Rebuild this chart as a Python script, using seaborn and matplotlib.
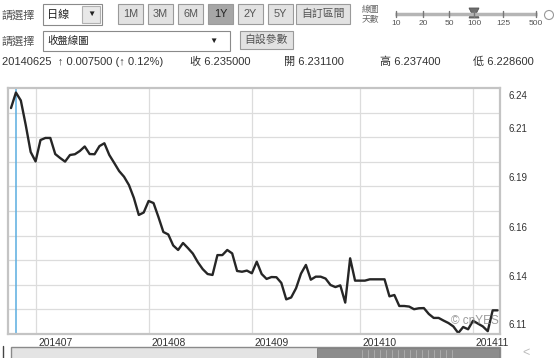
import numpy as np
import pandas as pd
import matplotlib
matplotlib.use("Agg")
import matplotlib.pyplot as plt
import matplotlib.patches as mpatches
from matplotlib.transforms import blended_transform_factory
import seaborn as sns

# ---- data (USD/CNY daily close) ----
start_date = "2014-06-24"
end_date = "2014-11-10"
close_values = [
    6.2294, 6.2376, 6.2334, 6.2204, 6.2062, 6.2012, 6.2125, 6.2136, 6.2136, 6.2051,
    6.2030, 6.2011, 6.2046, 6.2050, 6.2067, 6.2091, 6.2051, 6.2050, 6.2093, 6.2108,
    6.2046, 6.2004, 6.1961, 6.1931, 6.1887, 6.1819, 6.1729, 6.1742, 6.1803, 6.1792,
    6.1718, 6.1639, 6.1626, 6.1568, 6.1544, 6.1581, 6.1554, 6.1525, 6.1480, 6.1443,
    6.1417, 6.1412, 6.1517, 6.1517, 6.1544, 6.1526, 6.1433, 6.1429, 6.1435, 6.1421,
    6.1482, 6.1417, 6.1391, 6.1401, 6.1400, 6.1370, 6.1283, 6.1293, 6.1342, 6.1419,
    6.1465, 6.1387, 6.1403, 6.1403, 6.1393, 6.1359, 6.1348, 6.1357, 6.1266, 6.1500,
    6.1382, 6.1382, 6.1382, 6.1389, 6.1389, 6.1389, 6.1389, 6.1299, 6.1306, 6.1248,
    6.1248, 6.1245, 6.1231, 6.1236, 6.1237, 6.1206, 6.1185, 6.1185, 6.1171, 6.1158,
    6.1140, 6.1105, 6.1137, 6.1125, 6.1170, 6.1155, 6.1140, 6.1115, 6.1225, 6.1225,
]
selected_date = "2014-06-25"
y_min, y_max = 6.11, 6.24
header_info = "20140625  ↑ 0.007500 (↑ 0.12%)"
close_txt = "收 6.235000"
open_txt = "開 6.231100"
high_txt = "高 6.237400"
low_txt = "低 6.228600"
range_buttons = ["1M", "3M", "6M", "1Y", "2Y", "5Y"]
slider_labels = ["10", "20", "50", "100", "125", "500"]

dates = pd.bdate_range(start_date, end_date)
df = pd.DataFrame({"date": dates, "close": close_values})
df["idx"] = np.arange(len(df))

sns.set_theme(style="white")
plt.rcParams["font.family"] = ["Liberation Sans", "Noto Sans CJK TC", "DejaVu Sans"]

W, H = 554, 358
fig = plt.figure(figsize=(W / 100, H / 100), dpi=100)
fig.patch.set_facecolor("white")

# main plot area: x 8..500, y 88..334 (pixels)
L, R, T, B = 8, 500, 88, 334
ax = fig.add_axes([L / W, 1 - B / H, (R - L) / W, (B - T) / H])
ax.set_facecolor("white")

sns.lineplot(data=df, x="idx", y="close", ax=ax, color="#262626", linewidth=1.7)

px_per_day = 4.915
ax.set_xlim(-(11 - L) / px_per_day, (R - 11) / px_per_day)
ax.set_ylim(y_min, y_max)
ax.set_xlabel("")
ax.set_ylabel("")
ax.set_xticks([])
ax.set_yticks([])

# horizontal grid
step = (y_max - y_min) / 10
for k in range(1, 10):
    ax.axhline(y_min + k * step, color="#dcdcdc", linewidth=0.9, zorder=0)

# vertical grid at first trading day of each month + labels
trans_x = blended_transform_factory(ax.transData, ax.transAxes)
month_first = df.groupby(df["date"].dt.to_period("M"))["idx"].min()
for per, i in month_first.items():
    if i == 0:
        continue
    ax.axvline(i, color="#dcdcdc", linewidth=0.9, zorder=0)
    ax.text(i + 0.6, -0.015, f"{per.year}{per.month:02d}", transform=trans_x,
            ha="left", va="top", fontsize=7.4, color="#333333")

# selected-day blue line
sel_idx = int(df.index[df["date"] == pd.Timestamp(selected_date)][0])
ax.axvline(sel_idx, color="#5aaee0", linewidth=1.1, zorder=1)

# right y labels
trans_y = blended_transform_factory(ax.transAxes, ax.transData)
for k in range(0, 11, 2):
    v = y_min + k * step
    if k == 10:
        ax.text(1.017, v - step * 0.12, f"{v:.2f}", transform=trans_y, ha="left",
                va="top", fontsize=7, color="#333333")
    else:
        ax.text(1.017, v + step * (0.12 if k > 0 else 0.16), f"{v:.2f}", transform=trans_y,
                ha="left", va="bottom", fontsize=7, color="#333333")

for s in ax.spines.values():
    s.set_color("#c4c4c4")
    s.set_linewidth(1.6)

# watermark
ax.text(0.998, 0.03, "© cnYES", transform=ax.transAxes, ha="right", va="bottom",
        fontsize=8.5, color="#8a8a8a", alpha=0.85)

# ---- overlay in pixel coordinates for UI elements ----
ov = fig.add_axes([0, 0, 1, 1], zorder=5)
ov.set_xlim(0, W)
ov.set_ylim(H, 0)
ov.axis("off")
ov.patch.set_alpha(0)

def box(x0, y0, x1, y1, fc, ec="#9a9a9a", lw=0.8):
    ov.add_patch(mpatches.Rectangle((x0, y0), x1 - x0, y1 - y0, facecolor=fc,
                                    edgecolor=ec, linewidth=lw))

cjk = dict(color="#555555")
# row 1
ov.text(2, 15, "請選擇", fontsize=8, va="center", ha="left", **cjk)
box(43, 4, 102, 25, "white", "#8a8a8a")
ov.text(47, 14.5, "日線", fontsize=8, va="center", ha="left", color="#222222")
box(82, 6, 100, 23, "#e8e8e8", "#b0b0b0")
ov.text(91, 14.5, "▼", fontsize=6, va="center", ha="center", color="#222222")
bx = [118, 148, 178, 208, 238, 268]
for lab, x0 in zip(range_buttons, bx):
    sel = lab == "1Y"
    box(x0, 3.5, x0 + 25, 24, "#a6a6a6" if sel else "#e2e2e2", "#9a9a9a")
    ov.text(x0 + 12.5, 14, lab, fontsize=7.8, va="center", ha="center",
            color="#222222" if sel else "#555555")
box(296, 3.5, 350, 24, "#e2e2e2", "#9a9a9a")
ov.text(323, 14, "自訂區間", fontsize=7.8, va="center", ha="center", color="#555555")

# slider
ov.text(362, 9.5, "線圖", fontsize=6.3, va="center", ha="left", color="#666666")
ov.text(362, 19, "天數", fontsize=6.3, va="center", ha="left", color="#666666")
ov.plot([395, 537], [14, 14], color="#b5b5b5", linewidth=2.5, solid_capstyle="butt")
sx = [396, 423, 449, 474, 503, 536]
for lab, x in zip(slider_labels, sx):
    ov.plot([x, x], [11, 17], color="#777777", linewidth=1)
    ov.text(x, 23.5, lab, fontsize=6, va="center", ha="center", color="#555555")
ov.add_patch(mpatches.Polygon([[469, 8], [479, 8], [476.5, 13], [479, 18], [469, 18], [471.5, 13]],
                              closed=True, facecolor="#6e6e6e", edgecolor="#555555", linewidth=0.6))
ov.add_patch(mpatches.Circle((549, 15), 4.5, facecolor="white", edgecolor="#999999", linewidth=0.8))

# row 2
ov.text(2, 41, "請選擇", fontsize=8, va="center", ha="left", **cjk)
box(43, 31, 230, 51, "white", "#8a8a8a")
ov.text(47, 41, "收盤線圖", fontsize=7.5, va="center", ha="left", color="#222222")
ov.text(213, 41, "▼", fontsize=6, va="center", ha="center", color="#222222")
box(240, 31, 293, 49, "#e2e2e2", "#9a9a9a")
ov.text(266.5, 40, "自設參數", fontsize=7.8, va="center", ha="center", color="#555555")

# row 3
ov.text(2, 62, header_info, fontsize=8, va="center", ha="left", color="#333333")
ov.text(190, 62, close_txt, fontsize=8, va="center", ha="left", color="#333333")
ov.text(284, 62, open_txt, fontsize=8, va="center", ha="left", color="#333333")
ov.text(380, 62, high_txt, fontsize=8, va="center", ha="left", color="#333333")
ov.text(473, 62, low_txt, fontsize=8, va="center", ha="left", color="#333333")

# bottom scrollbar
box(11, 347, 500, 360, "#e4e4e4", "#8a8a8a", lw=1.0)
box(317, 348, 499, 360, "#8c8c8c", "#7a7a7a", lw=0.6)
for x in np.arange(362, 456, 6):
    ov.plot([x, x], [350, 358], color="#b0b0b0", linewidth=0.6)
ov.plot([3, 3], [346, 358], color="#444444", linewidth=1)
ov.text(526, 353, "<", fontsize=9, va="center", ha="center", color="#bbbbbb")

fig.savefig("out.png", dpi=100, facecolor="white")
